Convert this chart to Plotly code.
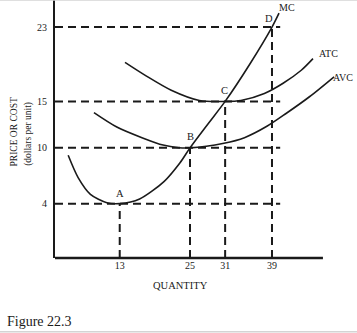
import plotly.graph_objects as go

# Marginal cost curve (quantity, dollars per unit)
mc_q = [4.2, 5.9, 8.0, 10.8, 13, 16.4, 20.6, 23.3, 25, 28.1, 31, 35.2, 39, 40.2]
mc_p = [9.2, 6.8, 5.0, 4.1, 4.0, 4.5, 6.4, 8.4, 10, 12.6, 15, 19.0, 23, 24.5]

# Average total cost curve
atc_q = [13.9, 17.5, 21.8, 26.6, 31, 33.7, 37.7, 40.9, 44.0, 46.0]
atc_p = [19.2, 17.75, 16.2, 15.1, 15, 15.1, 15.85, 16.95, 18.35, 19.6]

# Average variable cost curve
avc_q = [8.6, 12.5, 16.8, 20.4, 23.1, 25, 30.8, 34.3, 38.2, 41.4, 45.4, 49.6]
avc_p = [13.8, 12.25, 11.1, 10.3, 10.02, 10, 10.5, 11.1, 12.35, 13.7, 15.5, 17.65]

# Labelled points A-D
point_names = ["A", "B", "C", "D"]
point_q = [13, 25, 31, 39]
point_p = [4, 10, 15, 23]

# Curve name labels
curve_names = ["MC", "ATC", "AVC"]
curve_label_q = [41.6, 48.6, 51.1]
curve_label_p = [25.05, 20.2, 17.6]

X_RANGE = [1.95, 52.32]
Y_RANGE = [-1.85, 25.91]
X_AXIS_END = 47.7      # where the drawn quantity axis stops
GUIDE_END = 40.4       # right end of the horizontal guides

SERIF = "Liberation Serif, Times New Roman, serif"
INK = "#1a1a1a"

fig = go.Figure()

# Dashed guide lines from each labelled point to the axes
for q, p in zip(point_q, point_p):
    fig.add_trace(go.Scatter(
        x=[X_RANGE[0], GUIDE_END], y=[p, p], mode="lines",
        line=dict(color=INK, width=2, dash="8px,5px"),
        hoverinfo="skip", showlegend=False))
    fig.add_trace(go.Scatter(
        x=[q, q], y=[Y_RANGE[0], p], mode="lines",
        line=dict(color=INK, width=2, dash="8px,5px"),
        hoverinfo="skip", showlegend=False))

# Cost curves
for name, xs, ys in [("MC", mc_q, mc_p), ("ATC", atc_q, atc_p), ("AVC", avc_q, avc_p)]:
    fig.add_trace(go.Scatter(
        x=xs, y=ys, mode="lines", name=name,
        line=dict(color=INK, width=1.6, shape="spline", smoothing=0.8),
        showlegend=False))

annotations = []
shifts = {"A": (0, 10), "B": (0, 11), "C": (-1, 11), "D": (-3, 9)}
for name, q, p in zip(point_names, point_q, point_p):
    dx, dy = shifts[name]
    annotations.append(dict(
        x=q, y=p, xref="x", yref="y", text=name, showarrow=False,
        xshift=dx, yshift=dy, font=dict(family=SERIF, size=10.5, color=INK)))

for name, q, p in zip(curve_names, curve_label_q, curve_label_p):
    annotations.append(dict(
        x=q, y=p, xref="x", yref="y", text=name, showarrow=False,
        font=dict(family=SERIF, size=10, color=INK)))

annotations += [
    dict(x=-0.1395, y=0.49, xref="paper", yref="paper", text="PRICE OR COST",
         textangle=-90, xanchor="center", yanchor="middle", showarrow=False,
         font=dict(family=SERIF, size=9.5, color=INK)),
    dict(x=-0.0925, y=0.48, xref="paper", yref="paper", text="(dollars per unit)",
         textangle=-90, xanchor="center", yanchor="middle", showarrow=False,
         font=dict(family=SERIF, size=9.5, color=INK)),
    dict(x=0.424, y=-0.105, xref="paper", yref="paper", text="QUANTITY",
         xanchor="center", yanchor="middle", showarrow=False,
         font=dict(family=SERIF, size=10.5, color=INK)),
    dict(x=-0.1695, y=-0.248, xref="paper", yref="paper", text="Figure 22.3",
         xanchor="left", yanchor="middle", showarrow=False,
         font=dict(family=SERIF, size=14, color=INK)),
]

shapes = [
    # quantity axis
    dict(type="line", xref="x", yref="paper", x0=X_RANGE[0], x1=X_AXIS_END, y0=0, y1=0,
         line=dict(color=INK, width=2.5)),
    # thin frame lines at top and bottom of the figure
    dict(type="line", xref="paper", yref="paper", x0=-0.19, x1=1.03, y0=1.0, y1=1.0,
         line=dict(color="#d4d4d4", width=1.5)),
    dict(type="line", xref="paper", yref="paper", x0=-0.19, x1=1.03, y0=-0.286, y1=-0.286,
         line=dict(color="#d4d4d4", width=1.5)),
]

fig.update_layout(
    width=357, height=333,
    margin=dict(l=55, r=7, t=0, b=75),
    paper_bgcolor="white", plot_bgcolor="white",
    annotations=annotations, shapes=shapes,
    xaxis=dict(range=X_RANGE, showgrid=False, zeroline=False, showline=False,
               tickvals=point_q, ticktext=[str(v) for v in point_q], ticks="",
               tickfont=dict(family=SERIF, size=10, color=INK)),
    yaxis=dict(range=Y_RANGE, showgrid=False, zeroline=False, showline=True,
               linecolor=INK, linewidth=2,
               tickvals=point_p, ticktext=[str(v) for v in point_p], ticks="",
               ticklabelstandoff=4,
               tickfont=dict(family=SERIF, size=10, color=INK)),
)

fig.write_html("out.html")
